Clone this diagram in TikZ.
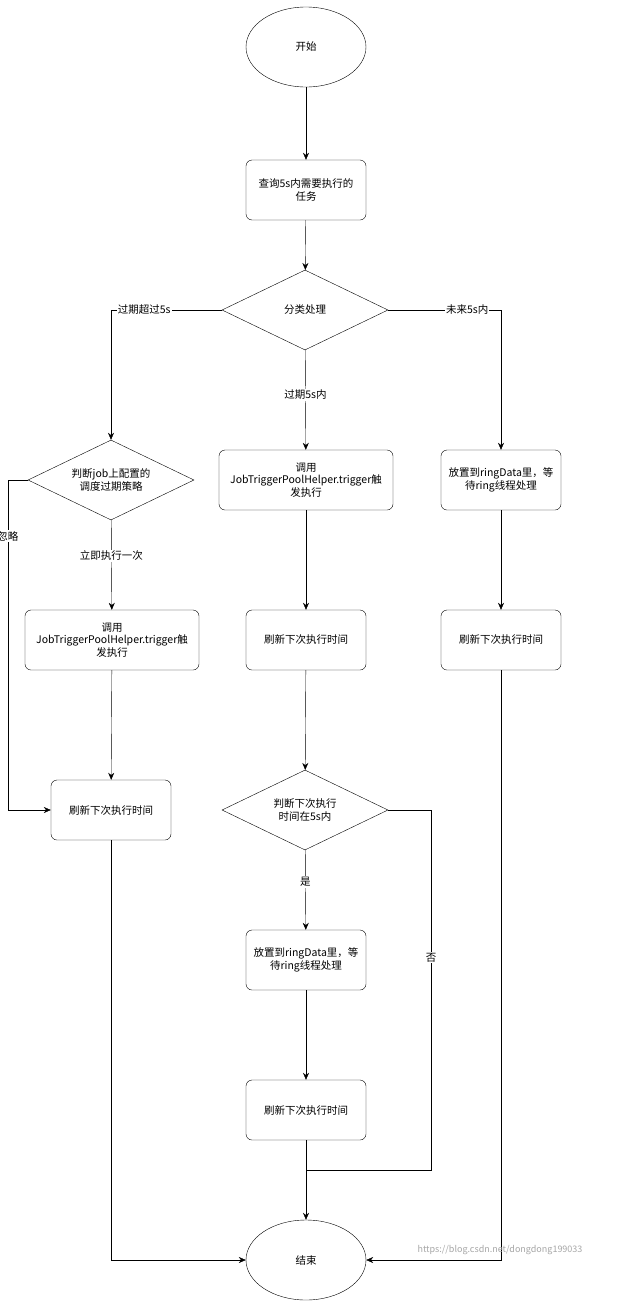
\documentclass[tikz,border=0pt]{standalone}
\usepackage{fontspec}
\setmainfont{Noto Sans CJK SC}
\usetikzlibrary{shapes.geometric,arrows.meta}
\begin{document}
\begin{tikzpicture}[x=1pt,y=-1pt,font=\fontsize{10.5}{12.5}\selectfont,
 box/.style={draw,rounded corners=6pt,minimum width=120pt,minimum height=60pt,align=center,inner sep=1pt},
 wbox/.style={box,minimum width=174pt},
 dia/.style={draw,diamond,aspect=2.075,minimum width=166pt,minimum height=80pt,inner sep=0pt,align=center},
 ell/.style={draw,ellipse,minimum width=120pt,minimum height=80pt},
 lab/.style={fill=white,inner sep=1pt},
 arr/.style={-{Stealth[length=7pt,width=6pt]}}]
\useasboundingbox (0,0) rectangle (617,1301);
\node[ell] (s) at (306,47) {开始};
\node[box] (q) at (306,190) {查询5s内需要执行的\\任务};
\node[dia] (d) at (305,310) {分类处理};
\node[dia] (d2) at (111,480) {判断job上配置的\\调度过期策略};
\node[wbox] (l1) at (112,640) {调用\\JobTriggerPoolHelper.trigger触\\发执行};
\node[box] (l2) at (111,810) {刷新下次执行时间};
\node[wbox] (m1) at (306,480) {调用\\JobTriggerPoolHelper.trigger触\\发执行};
\node[box] (m2) at (306,640) {刷新下次执行时间};
\node[dia] (d3) at (305,810) {判断下次执行\\时间在5s内};
\node[box] (m3) at (306,960) {放置到ringData里，等\\待ring线程处理};
\node[box] (m4) at (306,1110) {刷新下次执行时间};
\node[box] (r1) at (501,480) {放置到ringData里，等\\待ring线程处理};
\node[box] (r2) at (501,640) {刷新下次执行时间};
\node[ell] (e) at (306,1260) {结束};
\coordinate (j) at (306,1170);
\draw[arr] (s) -- (q);
\draw[arr] (q) -- (d);
\draw[arr] (d.west) -| node[lab,pos=0.35]{过期超过5s} (d2.north);
\draw[arr] (d.east) -| node[lab,pos=0.35]{未来5s内} (r1.north);
\draw[arr] (d) -- node[lab,pos=0.45]{过期5s内} (m1);
\draw[arr] (d2) -- node[lab,pos=0.4]{立即执行一次} (l1);
\draw[arr] (d2.west) -- (8,480) -- node[lab,pos=0.17]{忽略} (8,810) -- (l2.west);
\draw[arr] (l1) -- (l2);
\draw[arr] (l2.south) |- (e.west);
\draw[arr] (m1) -- (m2);
\draw[arr] (m2) -- (d3);
\draw[arr] (d3) -- node[lab,pos=0.4]{是} (m3);
\draw[arr] (m3) -- (m4);
\draw[arr] (m4) -- (e);
\draw (d3.east) -- (431,810) -- node[lab,pos=0.41]{否} (431,1170) -- (j);
\draw[arr] (r1) -- (r2);
\draw[arr] (r2.south) |- (e.east);
\node[text=gray!70,font=\fontsize{9}{11}\selectfont] (w) at (500,1250) {https://blog.csdn.net/dongdong199033};
\end{tikzpicture}
\end{document}
